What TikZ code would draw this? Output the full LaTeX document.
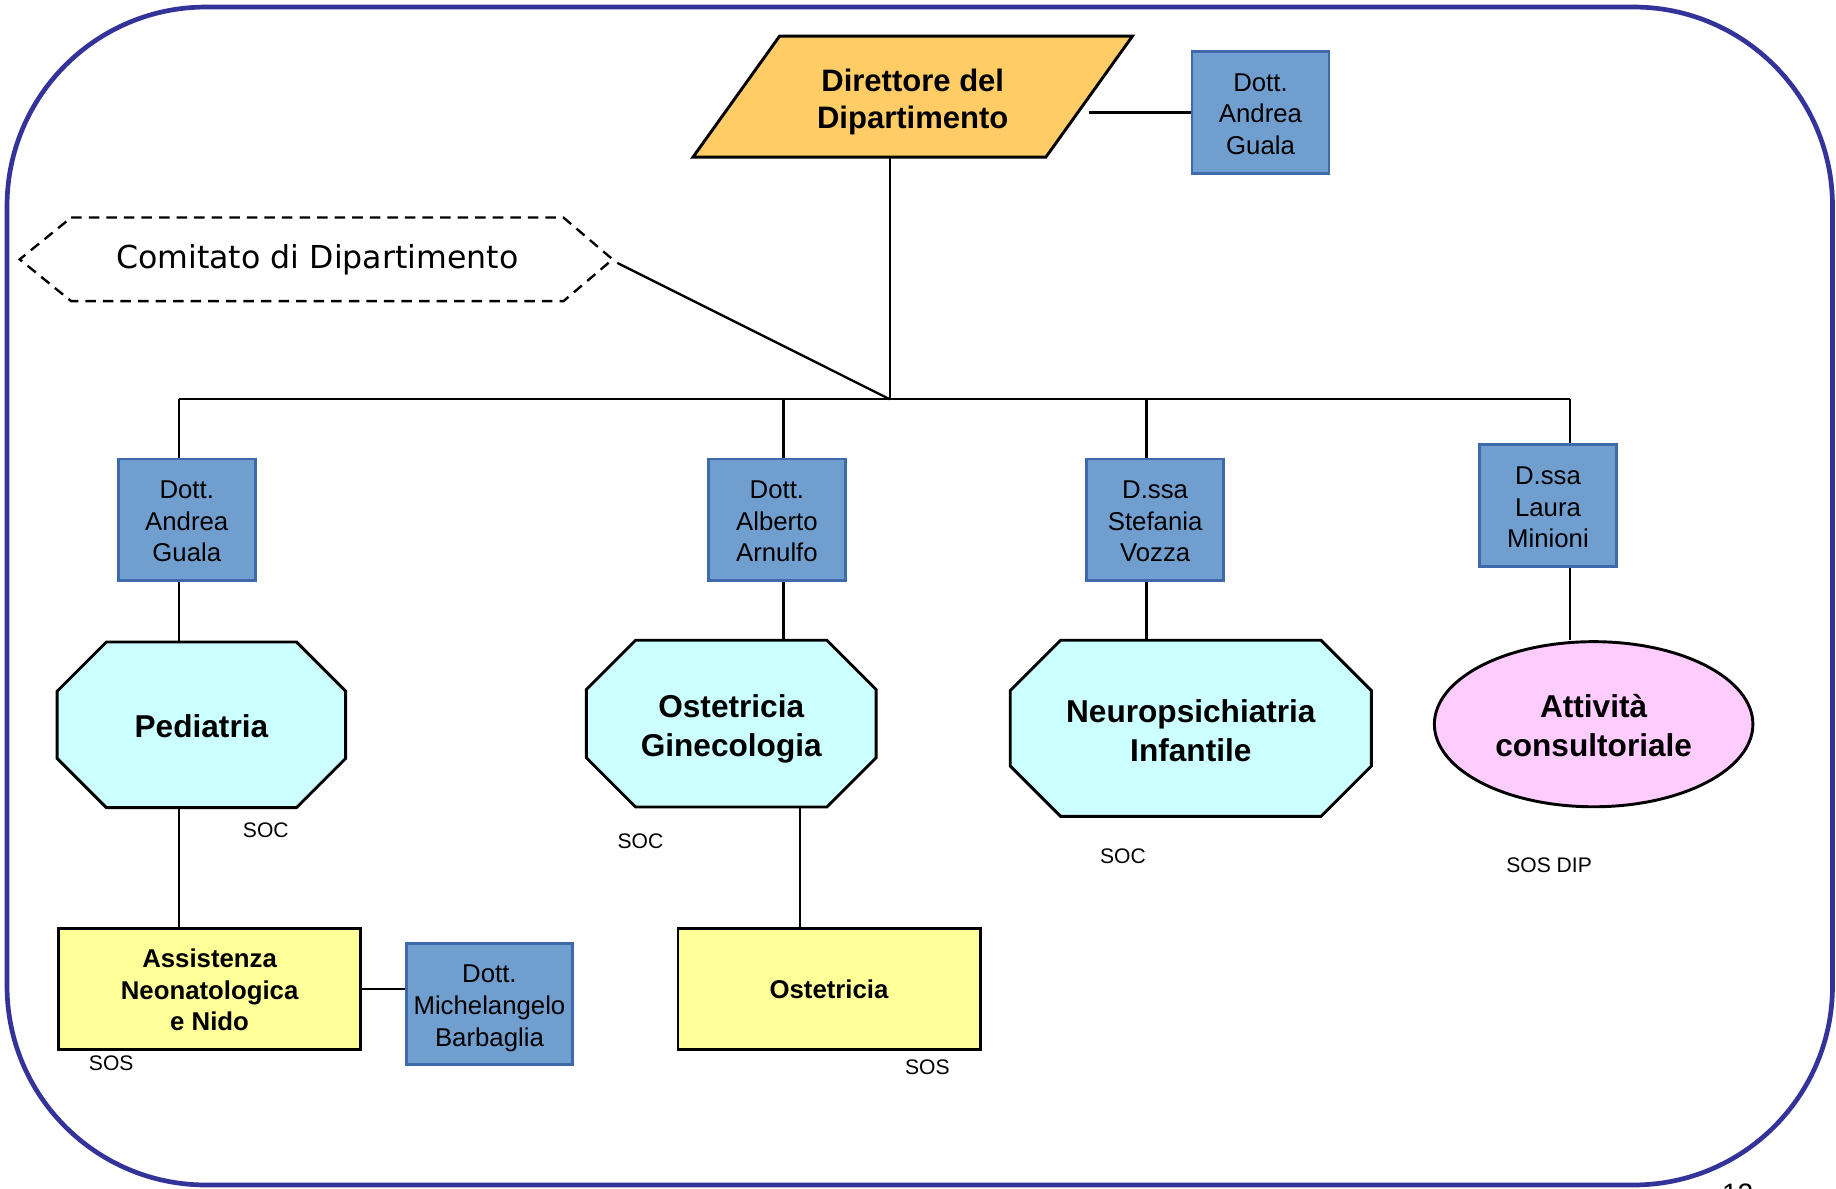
\documentclass[tikz,border=0pt]{standalone}
\usepackage{fontspec}
\setmainfont{Liberation Sans}
\newfontfamily\comfont{DejaVu Sans}
\usetikzlibrary{shapes.geometric}
\definecolor{frameblue}{RGB}{51,51,153}
\definecolor{docfill}{RGB}{112,158,207}
\definecolor{docline}{RGB}{62,106,170}
\definecolor{dirfill}{RGB}{255,204,102}
\definecolor{socfill}{RGB}{204,255,255}
\definecolor{sosfill}{RGB}{255,255,153}
\definecolor{dipfill}{RGB}{255,204,255}
\pgfdeclarelayer{bg}
\pgfsetlayers{bg,main}
% octagon outline round a named node: #1 node name, #2 chamfer
\newcommand{\drawoct}[2]{%
  \filldraw[fill=socfill, draw=black, line width=2.5pt]
    ([xshift=#2]#1.north west) -- ([xshift=-#2]#1.north east) -- ([yshift=-#2]#1.north east)
    -- ([yshift=#2]#1.south east) -- ([xshift=-#2]#1.south east) -- ([xshift=#2]#1.south west)
    -- ([yshift=#2]#1.south west) -- ([yshift=-#2]#1.north west) -- cycle;}
\begin{document}
\begin{tikzpicture}[x=1pt,y=-1pt,
 doc/.style={draw=docline, fill=docfill, line width=2.5pt, minimum width=117pt, minimum height=104pt, inner sep=0pt, align=center, font=\fontsize{22}{27}\selectfont, text height=71.8pt, text depth=0pt},
 unit/.style={inner sep=0pt, align=center, font=\bfseries\fontsize{27}{33}\selectfont, text height=56.3pt, text depth=0pt},
 sosbox/.style={draw, fill=sosfill, line width=2.5pt, minimum width=258pt, minimum height=103pt, inner sep=0pt, align=center, font=\bfseries\fontsize{22}{27}\selectfont, text height=71.8pt, text depth=0pt},
 tag/.style={font=\fontsize{18}{20}\selectfont, inner sep=0pt, text height=12.9pt, text depth=0pt},
 conn/.style={line width=2pt},
]
\useasboundingbox (0,0) rectangle (1568,1015);
% frame
\draw[frameblue, line width=4pt, rounded corners=170pt] (6,6) rectangle (1565,1012);
\node[font=\fontsize{24}{24}\selectfont, anchor=base, inner sep=0pt] (pg) at (1484,1028) {12};

% director
\node[minimum width=301pt, minimum height=103pt, inner sep=0pt, align=center,
      font=\bfseries\fontsize{26.5}{32}\selectfont, text height=55pt, text depth=0pt] (dir) at (779.5,82.5) {Direttore del\\Dipartimento};
\begin{pgfonlayer}{bg}
\filldraw[fill=dirfill, draw=black, line width=2.5pt]
  ([xshift=37pt]dir.north west) -- ([xshift=37pt]dir.north east) -- ([xshift=-37pt]dir.south east) -- ([xshift=-37pt]dir.south west) -- cycle;
\end{pgfonlayer}
\node[doc] (d0) at (1076.5,96) {Dott.\\Andrea\\Guala};
\draw[conn] (d0.west) -- (d0.west -| dir.east);

% committee
\node[minimum width=420pt, minimum height=71pt, inner sep=0pt, font=\comfont\fontsize{27}{30}\selectfont] (com) at (271,221.5) {Comitato di Dipartimento};
\coordinate (comtip) at ([xshift=42pt]com.east);
\draw[line width=2pt, dash pattern=on 9pt off 6pt] (com.north west) -- (com.north east) -- (comtip) -- (com.south east) -- (com.south west) -- ([xshift=-44pt]com.west) -- cycle;

% bus
\coordinate (hub) at (760,341);
\coordinate (bA) at (153,341);
\coordinate (bB) at (669,341);
\coordinate (bC) at (979,341);
\coordinate (bD) at (1341,341);
\coordinate (xo) at (683,0);
\draw[conn] (dir.south -| hub) -- (hub);
\draw[conn] ([xshift=4pt,yshift=-3pt]comtip) -- (hub);
\draw[conn] (bA) -- (bD);

% doctors
\node[doc] (dA) at (159.5,444) {Dott.\\Andrea\\Guala};
\node[doc] (dB) at (663.5,444) {Dott.\\Alberto\\Arnulfo};
\node[doc] (dC) at (986.5,444) {D.ssa\\Stefania\\Vozza};
\node[doc] (dD) at (1322,432) {D.ssa\\Laura\\Minioni};
\draw[conn] (bA) -- (bA |- dA.north);
\draw[conn] (bB) -- (bB |- dB.north);
\draw[conn] (bC) -- (bC |- dC.north);
\draw[conn] (bD) -- (bD |- dD.north);

% units
\node[unit, text height=21.3pt, minimum width=246pt, minimum height=141pt] (ped) at (172,619) {Pediatria};
\node[unit, minimum width=247pt, minimum height=142pt] (og) at (624.5,618) {Ostetricia\\Ginecologia};
\node[unit, minimum width=308pt, minimum height=150pt] (np) at (1017,622) {Neuropsichiatria\\Infantile};
\begin{pgfonlayer}{bg}
\drawoct{ped}{42pt}
\drawoct{og}{42pt}
\drawoct{np}{43pt}
\end{pgfonlayer}
\node[ellipse, draw, fill=dipfill, line width=2.5pt, minimum width=272pt, minimum height=141pt, inner sep=0pt,
      align=center, font=\bfseries\fontsize{27}{33}\selectfont, text height=55.3pt, text depth=0pt] (att) at (1361,618.5) {Attivit\`a\\consultoriale};
\draw[conn] (dA.south -| bA) -- (ped.north -| bA);
\draw[conn] (dB.south -| bB) -- (og.north -| bB);
\draw[conn] (dC.south -| bC) -- (np.north -| bC);
\draw[conn] (dD.south -| bD) -- (att.north -| bD);

% tags
\node[tag] (t1) at (227,709) {SOC};
\node[tag] (t2) at (547,718) {SOC};
\node[tag] (t3) at (959,731) {SOC};
\node[tag] (t4) at (1323,739) {SOS DIP};
\node[tag] (t5) at (95,908) {SOS};
\node[tag] (t6) at (792,911) {SOS};

% simple structures
\node[sosbox] (ass) at (179,844.5) {Assistenza\\Neonatologica\\e Nido};
\node[sosbox, text height=16.8pt] (ost) at (708,844.5) {Ostetricia};
\node[doc, minimum width=142pt, minimum height=103pt] (dM) at (418,857.5) {Dott.\\Michelangelo\\Barbaglia};
\draw[conn] (ped.south -| bA) -- (ass.north -| bA);
\draw[conn] (og.south -| xo) -- (ost.north -| xo);
\draw[conn] (ass.east) -- (ass.east -| dM.west);
\end{tikzpicture}
\end{document}
